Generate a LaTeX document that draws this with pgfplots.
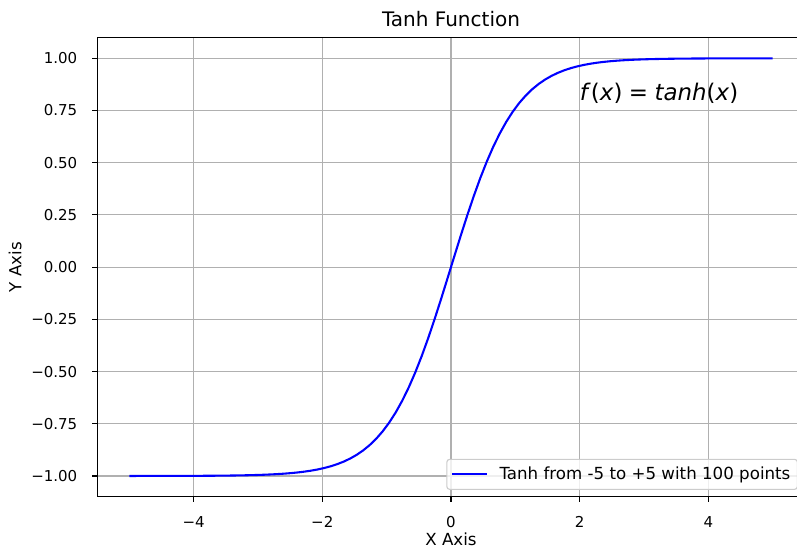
\documentclass[border=0pt]{standalone}
\usepackage{fontspec}
\setmainfont{DejaVu Sans}
\usepackage{pgfplots}
\usepackage{pgfplotstable}
\pgfplotsset{compat=1.18}

% tanh sampled at 100 evenly spaced points on [-5, 5]
\pgfplotstableread{
x y
-5.0000 -0.99991
-4.8990 -0.99989
-4.7980 -0.99986
-4.6970 -0.99983
-4.5960 -0.99980
-4.4949 -0.99975
-4.3939 -0.99969
-4.2929 -0.99963
-4.1919 -0.99954
-4.0909 -0.99944
-3.9899 -0.99932
-3.8889 -0.99916
-3.7879 -0.99898
-3.6869 -0.99875
-3.5859 -0.99847
-3.4848 -0.99812
-3.3838 -0.99770
-3.2828 -0.99719
-3.1818 -0.99656
-3.0808 -0.99579
-2.9798 -0.99485
-2.8788 -0.99370
-2.7778 -0.99230
-2.6768 -0.99058
-2.5758 -0.98849
-2.4747 -0.98593
-2.3737 -0.98280
-2.2727 -0.97899
-2.1717 -0.97435
-2.0707 -0.96870
-1.9697 -0.96182
-1.8687 -0.95347
-1.7677 -0.94335
-1.6667 -0.93111
-1.5657 -0.91633
-1.4646 -0.89855
-1.3636 -0.87723
-1.2626 -0.85179
-1.1616 -0.82157
-1.0606 -0.78590
-0.9596 -0.74410
-0.8586 -0.69553
-0.7576 -0.63965
-0.6566 -0.57607
-0.5556 -0.50467
-0.4545 -0.42563
-0.3535 -0.33951
-0.2525 -0.24729
-0.1515 -0.15037
-0.0505 -0.05046
0.0505 0.05046
0.1515 0.15037
0.2525 0.24729
0.3535 0.33951
0.4545 0.42563
0.5556 0.50467
0.6566 0.57607
0.7576 0.63965
0.8586 0.69553
0.9596 0.74410
1.0606 0.78590
1.1616 0.82157
1.2626 0.85179
1.3636 0.87723
1.4646 0.89855
1.5657 0.91633
1.6667 0.93111
1.7677 0.94335
1.8687 0.95347
1.9697 0.96182
2.0707 0.96870
2.1717 0.97435
2.2727 0.97899
2.3737 0.98280
2.4747 0.98593
2.5758 0.98849
2.6768 0.99058
2.7778 0.99230
2.8788 0.99370
2.9798 0.99485
3.0808 0.99579
3.1818 0.99656
3.2828 0.99719
3.3838 0.99770
3.4848 0.99812
3.5859 0.99847
3.6869 0.99875
3.7879 0.99898
3.8889 0.99916
3.9899 0.99932
4.0909 0.99944
4.1919 0.99954
4.2929 0.99963
4.3939 0.99969
4.4949 0.99975
4.5960 0.99980
4.6970 0.99983
4.7980 0.99986
4.8990 0.99989
5.0000 0.99991
}\tanhdata

\definecolor{gridgray}{HTML}{B0B0B0}
\definecolor{legframe}{HTML}{CCCCCC}

\begin{document}
\begin{tikzpicture}
\begin{axis}[
  name=ax,
  scale only axis,
  width=509.6pt, height=330.8pt,
  xmin=-5.5, xmax=5.5, ymin=-1.1, ymax=1.1,
  axis line style={black, line width=0.8pt},
  grid=major,
  major grid style={gridgray, line width=0.8pt},
  tick pos=left,
  tick align=outside,
  major tick length=3.5pt,
  tick style={black, line width=0.8pt},
  xtick={-4,-2,0,2,4},
  xticklabels={−4,−2,0,2,4},
  ytick={-1,-0.75,-0.5,-0.25,0,0.25,0.5,0.75,1},
  yticklabels={−1.00,−0.75,−0.50,−0.25,0.00,0.25,0.50,0.75,1.00},
  xticklabel style={font=\fontsize{10.8}{13}\selectfont, inner sep=0pt, anchor=north, yshift=-10.3pt},
  yticklabel style={font=\fontsize{10.8}{13}\selectfont, inner sep=0pt, anchor=east, xshift=-10.6pt},
  title={Tanh Function},
  title style={font=\fontsize{14.4}{17}\selectfont, inner sep=0pt, at={(axis description cs:0.5,1)}, anchor=base, yshift=1.6pt},
  xlabel={X Axis},
  xlabel style={font=\fontsize{12}{14}\selectfont, inner sep=0pt, at={(axis description cs:0.5,-0.0783)}, anchor=north},
  ylabel={Y Axis},
  ylabel style={font=\fontsize{12}{14}\selectfont, inner sep=0pt, at={(axis description cs:-0.1159,0.5)}, anchor=center},
  legend style={at={(axis description cs:1,0)}, anchor=south east, xshift=-5pt, yshift=5pt,
    draw=legframe, line width=0.8pt, rounded corners=2pt, fill=white, fill opacity=0.8, text opacity=1,
    font=\fontsize{12}{14}\selectfont, inner xsep=3pt, inner ysep=3.5pt},
  legend cell align=left,
  legend image code/.code={\draw[#1, line width=1.5pt] (0pt,0pt) -- (25pt,0pt); \path (31.4pt,0pt);},
]
\addplot[color=blue, line width=1.5pt, line join=round] table[x=x, y=y] {\tanhdata};
\addlegendentry{Tanh from -5 to +5 with 100 points}
\node[anchor=base west, inner sep=0pt, font=\fontsize{16.5}{19}\selectfont]
  at (axis cs:2,0.8) {\textit{f}(\textit{x})\hspace{0.28em}=\hspace{0.28em}\textit{tanh}(\textit{x})};
\end{axis}
\pgfresetboundingbox
\path[use as bounding box] ([xshift=-69.9pt, yshift=-39.7pt]ax.south west) rectangle ([xshift=503.94pt, yshift=357.74pt]ax.south west);
\end{tikzpicture}
\end{document}
